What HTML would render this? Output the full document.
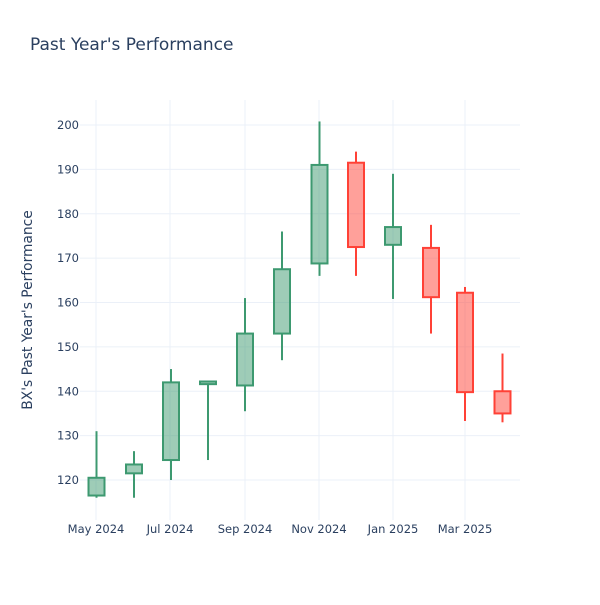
<!DOCTYPE html>
<html><head><meta charset="utf-8"><style>
html,body{margin:0;padding:0;background:#fff;}
svg text{font-family:"DejaVu Sans",sans-serif;fill:#2a3f5f;}
</style></head><body>
<svg id="s" width="600" height="600" xmlns="http://www.w3.org/2000/svg">
<rect width="600" height="600" fill="#fff"/>
<text x="30" y="50" font-size="17">Past Year's Performance</text>
<text transform="translate(32,310) rotate(-90)" text-anchor="middle" font-size="13.8">BX's Past Year's Performance</text>
<g id="g"></g>
</svg>
<script>
var g=document.getElementById('g'),h='';
function y(v){return 480-(v-120)*4.4375;}
[96,170,245,319,393,465].forEach(function(x){h+='<line x1="'+x+'" x2="'+x+'" y1="100" y2="520" stroke="#EBF0F8"/>';});
for(var v=120;v<=200;v+=10){var yy=y(v);h+='<line x1="80" x2="520" y1="'+yy+'" y2="'+yy+'" stroke="#EBF0F8"/>';
h+='<text x="79" y="'+(yy+4)+'" font-size="11.5" text-anchor="end">'+v+'</text>';}
var lab=[[96,'May 2024'],[170,'Jul 2024'],[245,'Sep 2024'],[319,'Nov 2024'],[393,'Jan 2025'],[465,'Mar 2025']];
lab.forEach(function(l){h+='<text x="'+l[0]+'" y="533" font-size="11.5" text-anchor="middle">'+l[1]+'</text>';});
var d=[[96.5,116.5,120.5,131,116],[134,121.5,123.5,126.5,116],[171,124.5,142,145,120],[208,141.6,142.2,142,124.5],
[245,141.3,153,161,135.5],[282,153,167.5,176,147],[319.5,168.8,191,200.8,166],[356,191.5,172.5,194,166],
[393,173,177,189,160.8],[431,172.3,161.2,177.5,153],[465,162.2,139.8,163.5,133.3],[502.5,140,135,148.5,133]];
d.forEach(function(c){var x=c[0],o=c[1],cl=c[2],up=cl>=o;var st=up?'#3D9970':'#FF4136',fi=up?'rgba(61,153,112,0.5)':'rgba(255,65,54,0.5)';
var top=y(Math.max(o,cl)),bot=y(Math.min(o,cl));
h+='<line x1="'+x+'" x2="'+x+'" y1="'+y(c[3])+'" y2="'+top+'" stroke="'+st+'" stroke-width="2"/>';
h+='<line x1="'+x+'" x2="'+x+'" y1="'+bot+'" y2="'+y(c[4])+'" stroke="'+st+'" stroke-width="2"/>';
h+='<rect x="'+(x-8)+'" y="'+top+'" width="16" height="'+Math.max(bot-top,1)+'" fill="'+fi+'" stroke="'+st+'" stroke-width="2"/>';});
g.innerHTML=h;
</script>
</body></html>
